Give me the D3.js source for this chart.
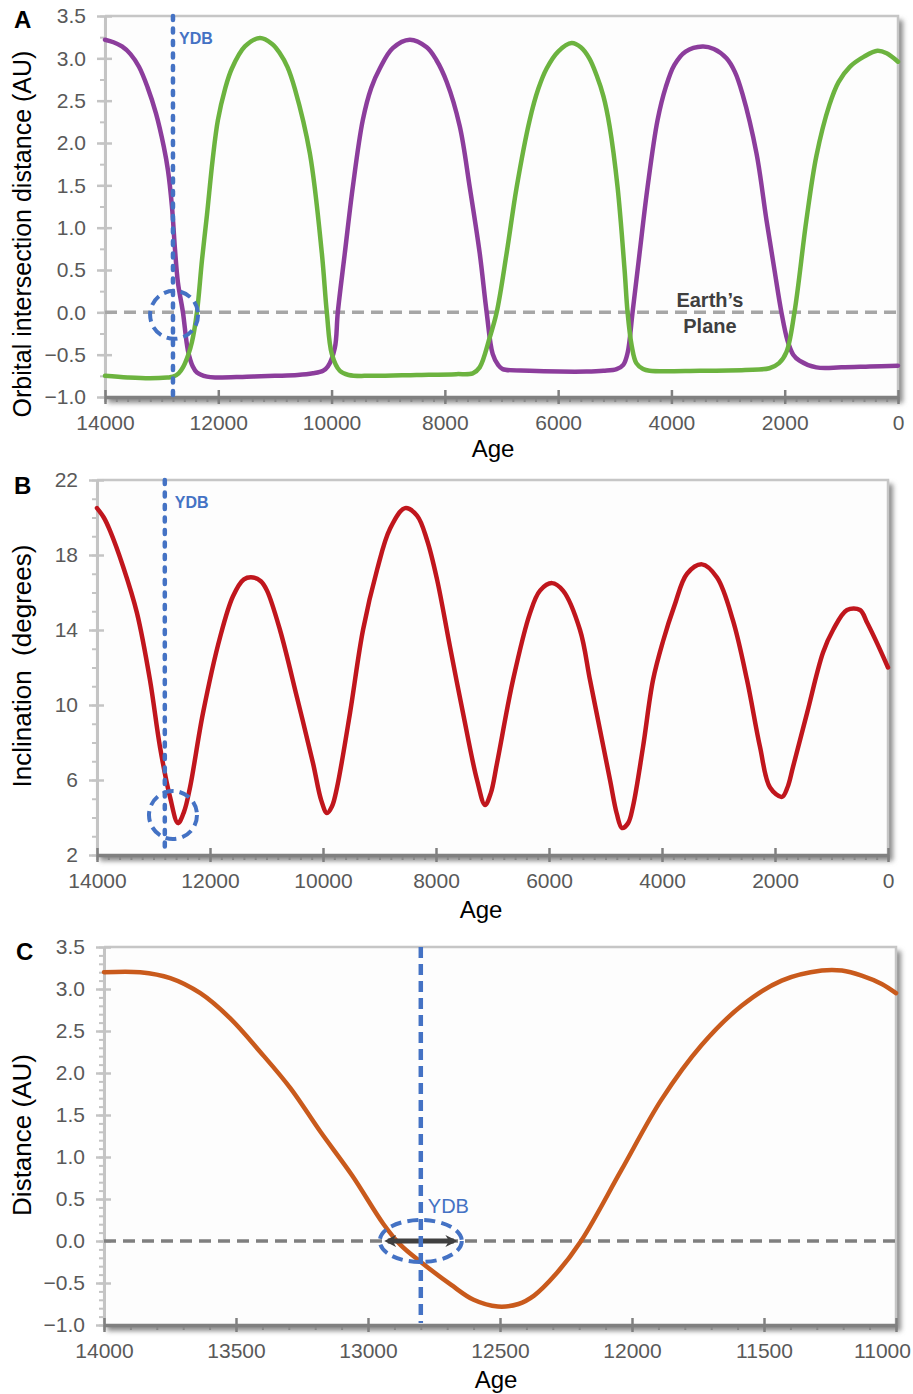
<!DOCTYPE html>
<html>
<head>
<meta charset="utf-8">
<script src="https://cdn.jsdelivr.net/npm/d3@7"></script>
<style>
  body { margin: 0; background: #fff; }
  svg { display: block; font-family: "Liberation Sans", Arial, sans-serif; }
</style>
</head>
<body>
<svg id="fig" width="913" height="1394"></svg>
<script>
// ---- data: [age (yr BP), value] ----
const purpleA = [[14000,3.22],[13850,3.19],[13700,3.14],[13550,3.05],[13400,2.9],[13250,2.66],[13100,2.35],[12960,1.95],[12889,1.68],[12818,1.25],[12765,0.75],[12712,0.35],[12624,0.0],[12536,-0.45],[12450,-0.64],[12377,-0.71],[12200,-0.76],[12024,-0.77],[11500,-0.76],[11000,-0.75],[10600,-0.74],[10330,-0.72],[10150,-0.69],[10066,-0.64],[9943,-0.42],[9890,0.0],[9766,0.7],[9625,1.48],[9449,2.27],[9300,2.65],[9149,2.88],[8920,3.12],[8620,3.22],[8320,3.13],[8150,2.98],[7967,2.72],[7738,2.2],[7561,1.48],[7385,0.7],[7262,0.0],[7156,-0.49],[7060,-0.62],[6979,-0.67],[6503,-0.69],[5974,-0.70],[5500,-0.70],[5200,-0.69],[4968,-0.67],[4850,-0.62],[4774,-0.48],[4686,0.0],[4562,0.7],[4421,1.48],[4245,2.27],[4100,2.66],[3950,2.92],[3750,3.08],[3451,3.14],[3250,3.11],[3028,3.0],[2880,2.84],[2746,2.58],[2499,1.88],[2322,1.09],[2181,0.5],[2058,0.0],[1952,-0.33],[1850,-0.5],[1740,-0.57],[1440,-0.65],[1000,-0.65],[500,-0.64],[0,-0.63]];
const greenA = [[14000,-0.75],[13600,-0.77],[13206,-0.78],[12900,-0.77],[12800,-0.76],[12700,-0.72],[12624,-0.65],[12530,-0.5],[12465,-0.35],[12377,0.0],[12289,0.61],[12200,1.15],[12100,1.8],[12007,2.27],[11880,2.64],[11760,2.88],[11530,3.14],[11266,3.24],[11050,3.17],[10913,3.06],[10780,2.9],[10648,2.64],[10384,1.88],[10172,0.7],[10084,0.0],[9996,-0.49],[9855,-0.69],[9700,-0.74],[9300,-0.75],[8500,-0.74],[7800,-0.73],[7508,-0.72],[7385,-0.65],[7209,-0.3],[7085,0.0],[6909,0.7],[6732,1.48],[6503,2.27],[6350,2.64],[6203,2.88],[6000,3.08],[5762,3.18],[5600,3.13],[5450,3.0],[5321,2.8],[5200,2.55],[5092,2.2],[4951,1.48],[4827,0.5],[4774,0.0],[4700,-0.4],[4620,-0.6],[4500,-0.67],[4386,-0.69],[3500,-0.69],[2700,-0.68],[2270,-0.66],[2100,-0.6],[1970,-0.47],[1828,0.0],[1617,1.09],[1440,1.85],[1211,2.45],[1050,2.72],[850,2.9],[600,3.02],[364,3.09],[200,3.06],[0,2.96]];
const redB = [[14000,20.5],[13880,20.0],[13770,19.3],[13540,17.4],[13292,14.9],[13062,11.33],[12885,7.76],[12708,5.1],[12566,3.7],[12460,4.3],[12354,5.6],[12124,9.57],[11823,13.6],[11593,15.8],[11400,16.7],[11239,16.8],[11100,16.6],[10991,16.1],[10761,14.0],[10460,10.4],[10177,6.9],[10030,4.9],[9929,4.24],[9840,4.6],[9752,5.6],[9522,9.57],[9292,14.0],[9044,17.2],[8814,19.4],[8548,20.5],[8336,20.1],[8159,18.8],[7982,16.7],[7752,13.1],[7522,9.57],[7274,6.0],[7132,4.67],[7030,5.3],[6920,6.9],[6637,11.33],[6336,14.9],[6159,16.1],[5946,16.5],[5752,16.1],[5451,14.0],[5274,11.33],[5097,8.67],[4920,6.0],[4800,4.2],[4708,3.44],[4600,3.7],[4513,4.6],[4336,7.76],[4159,11.33],[3982,13.4],[3780,15.3],[3557,17.0],[3292,17.5],[3026,16.8],[2743,14.5],[2495,11.33],[2265,7.76],[2088,5.6],[1876,5.1],[1780,5.6],[1681,6.7],[1433,9.57],[1150,12.8],[973,14.0],[725,15.07],[495,15.07],[371,14.4],[194,13.3],[0,12.0]];
const orangeC = [[14000,3.2],[13863,3.2],[13749,3.13],[13635,2.95],[13522,2.65],[13408,2.25],[13294,1.82],[13180,1.3],[13060,0.78],[12941,0.2],[12876,-0.05],[12800,-0.25],[12686,-0.52],[12600,-0.7],[12508,-0.78],[12430,-0.75],[12371,-0.65],[12290,-0.4],[12193,0.0],[12041,0.84],[11889,1.68],[11737,2.33],[11585,2.8],[11433,3.1],[11281,3.22],[11205,3.22],[11130,3.16],[11054,3.06],[11000,2.95]];

// ticks
const ageTicksAB = [14000, 12000, 10000, 8000, 6000, 4000, 2000, 0];
const ageTicksC = [14000, 13500, 13000, 12500, 12000, 11500, 11000];
const distTicks = [-1.0, -0.5, 0.0, 0.5, 1.0, 1.5, 2.0, 2.5, 3.0, 3.5];
const inclTicks = [2, 6, 10, 14, 18, 22];

const ydbAge = 12800;
const blue = "#4472c4";

const svg = d3.select("#fig");
const defs = svg.append("defs");
defs.append("filter").attr("id", "soft")
  .append("feGaussianBlur").attr("stdDeviation", 2.5);
defs.append("marker").attr("id", "head")
  .attr("viewBox", "0 -5 10 10").attr("refX", 7).attr("refY", 0)
  .attr("markerWidth", 2.4).attr("markerHeight", 2.4)
  .attr("orient", "auto-start-reverse").attr("markerUnits", "strokeWidth")
  .append("path").attr("d", "M0,-5L10,0L0,5L3,0Z").attr("fill", "#404040");

function drawPanel(cfg) {
  const w = cfg.right - cfg.left, h = cfg.bottom - cfg.top;
  const g = svg.append("g").attr("transform", `translate(${cfg.left},${cfg.top})`);
  const x = d3.scaleLinear().domain(cfg.xDomain).range([0, w]);
  const y = d3.scaleLinear().domain(cfg.yDomain).range([h, 0]);

  // frame with soft shadow
  g.append("rect").attr("x", 3).attr("y", 4).attr("width", w + 2).attr("height", h + 2)
    .attr("fill", "#8c8c8c").attr("filter", "url(#soft)");
  g.append("rect").attr("width", w).attr("height", h).attr("fill", "#fdfdfd");
  g.append("path").attr("d", `M0,0H${w}V${h}`).attr("fill", "none")
    .attr("stroke", "#c6c6c6").attr("stroke-width", 2.5);

  // y axis
  const yMinor = d3.range(cfg.yDomain[0], cfg.yDomain[1] + 1e-9, cfg.yMinorStep);
  g.append("g")
    .call(d3.axisLeft(y).tickValues(yMinor).tickSize(5).tickFormat(""))
    .call(s => s.select(".domain").remove())
    .selectAll("line").attr("stroke", "#c4c4c4").attr("stroke-width", 2);
  g.append("g")
    .call(d3.axisRight(y).tickValues(cfg.yTicks).tickSize(7).tickFormat(""))
    .call(s => s.select(".domain").remove())
    .selectAll("line").attr("stroke", "#c4c4c4").attr("stroke-width", 2.5);
  const ya = g.append("g")
    .call(d3.axisLeft(y).tickValues(cfg.yTicks).tickSizeInner(8).tickSizeOuter(0)
      .tickPadding(11).tickFormat(cfg.yFormat));
  ya.select(".domain").attr("stroke", "#c4c4c4").attr("stroke-width", 3);
  ya.selectAll("line").attr("stroke", "#c4c4c4").attr("stroke-width", 2.5);
  ya.selectAll("text").attr("fill", "#595959").style("font-size", "21px");

  // x axis
  const xMinor = d3.range(d3.min(cfg.xDomain), d3.max(cfg.xDomain) + 1e-9, cfg.xMinorStep);
  g.append("g").attr("transform", `translate(0,${h})`)
    .call(d3.axisBottom(x).tickValues(xMinor).tickSize(5).tickFormat(""))
    .call(s => s.select(".domain").remove())
    .selectAll("line").attr("stroke", "#8a8a8a").attr("stroke-width", 2);
  g.append("g").attr("transform", `translate(0,${h})`)
    .call(d3.axisTop(x).tickValues(cfg.xTicks).tickSize(7).tickFormat(""))
    .call(s => s.select(".domain").remove())
    .selectAll("line").attr("stroke", "#808080").attr("stroke-width", 2.5);
  const xa = g.append("g").attr("transform", `translate(0,${h})`)
    .call(d3.axisBottom(x).tickValues(cfg.xTicks).tickSizeInner(7).tickSizeOuter(0)
      .tickPadding(11).tickFormat(d3.format("d")));
  xa.select(".domain").attr("stroke", "#808080").attr("stroke-width", 3.5);
  xa.selectAll("line").attr("stroke", "#808080").attr("stroke-width", 2.5);
  xa.selectAll("text").attr("fill", "#595959").style("font-size", "21px");
  // keep the last label inside the page
  if (cfg.lastShift) xa.selectAll(".tick:last-of-type text").attr("dx", cfg.lastShift);

  // titles
  svg.append("text").attr("x", cfg.label[0]).attr("y", cfg.label[1])
    .attr("font-weight", "bold").attr("font-size", 24).text(cfg.name);
  svg.append("text").attr("x", cfg.xTitle[0]).attr("y", cfg.xTitle[1])
    .attr("text-anchor", "middle").attr("font-size", 24).text("Age");
  svg.append("text")
    .attr("transform", `translate(${cfg.yTitle[0]},${cfg.yTitle[1]}) rotate(-90)`)
    .attr("text-anchor", "middle").attr("font-size", cfg.yTitleSize).attr("xml:space", "preserve")
    .text(cfg.yLabel);

  return { g, x, y, w, h };
}

const line = (p) => d3.line().x(d => p.x(d[0])).y(d => p.y(d[1]))
  .curve(d3.curveCatmullRom.alpha(0.5));
function series(p, data, color) {
  p.g.append("path").datum(data).attr("d", line(p)).attr("fill", "none")
    .attr("stroke", color).attr("stroke-width", 4.5)
    .attr("stroke-linejoin", "round").attr("stroke-linecap", "round");
}
function ydbLine(p, dash, cap) {
  p.g.append("line").attr("x1", p.x(ydbAge)).attr("x2", p.x(ydbAge))
    .attr("y1", 0).attr("y2", p.h - 2)
    .attr("stroke", blue).attr("stroke-width", 4.5)
    .attr("stroke-dasharray", dash).attr("stroke-linecap", cap);
}

// ---------- Panel A ----------
const pA = drawPanel({
  name: "A", label: [14, 28], left: 105, right: 898, top: 16, bottom: 397,
  xDomain: [14000, 0], yDomain: [-1, 3.5], xTicks: ageTicksAB, yTicks: distTicks,
  xMinorStep: 200, yMinorStep: 0.25, yFormat: d3.format(".1f"),
  xTitle: [493, 457], yTitle: [31, 234], yTitleSize: 25,
  yLabel: "Orbital intersection distance (AU)"
});
pA.g.append("line").attr("x1", 0).attr("x2", pA.w).attr("y1", pA.y(0)).attr("y2", pA.y(0))
  .attr("stroke", "#a6a6a6").attr("stroke-width", 3.5).attr("stroke-dasharray", "12,7");
pA.g.append("text").attr("x", pA.x(3320)).attr("y", pA.y(0) - 5)
  .attr("text-anchor", "middle").attr("font-weight", "bold").attr("font-size", 20)
  .attr("fill", "#3f3f3f")
  .selectAll("tspan").data(["Earth\u2019s", "Plane"]).join("tspan")
  .attr("x", pA.x(3320)).attr("dy", (d, i) => i ? 26 : 0).text(d => d);
series(pA, purpleA, "#8c3d9c");
series(pA, greenA, "#6cb33f");
ydbLine(pA, "4,8.5", "round");
pA.g.append("text").attr("x", pA.x(ydbAge) + 6).attr("y", 28).attr("fill", blue)
  .attr("font-weight", "bold").attr("font-size", 16).text("YDB");
pA.g.append("ellipse").attr("cx", pA.x(12780)).attr("cy", pA.y(-0.03))
  .attr("rx", 24).attr("ry", 24).attr("fill", "none").attr("stroke", blue)
  .attr("stroke-width", 4).attr("stroke-dasharray", "11,6");

// ---------- Panel B ----------
const pB = drawPanel({
  name: "B", label: [14, 494], left: 97, right: 888, top: 480, bottom: 855,
  xDomain: [14000, 0], yDomain: [2, 22], xTicks: ageTicksAB, yTicks: inclTicks,
  xMinorStep: 200, yMinorStep: 1, yFormat: d3.format("d"),
  xTitle: [481, 918], yTitle: [31, 666], yTitleSize: 26,
  yLabel: "Inclination  (degrees)"
});
series(pB, redB, "#c0161d");
ydbLine(pB, "4,8.5", "round");
pB.g.append("text").attr("x", pB.x(ydbAge) + 10).attr("y", 28).attr("fill", blue)
  .attr("font-weight", "bold").attr("font-size", 16).text("YDB");
pB.g.append("ellipse").attr("cx", pB.x(12655)).attr("cy", pB.y(4.13))
  .attr("rx", 24).attr("ry", 24).attr("fill", "none").attr("stroke", blue)
  .attr("stroke-width", 4).attr("stroke-dasharray", "11,6");

// ---------- Panel C ----------
const pC = drawPanel({
  name: "C", label: [16, 960], left: 104, right: 896, top: 947, bottom: 1325,
  xDomain: [14000, 11000], yDomain: [-1, 3.5], xTicks: ageTicksC, yTicks: distTicks,
  xMinorStep: 100, yMinorStep: 0.1, yFormat: d3.format(".1f"), lastShift: -14,
  xTitle: [496, 1388], yTitle: [31, 1135], yTitleSize: 26,
  yLabel: "Distance (AU)"
});
pC.g.append("line").attr("x1", 0).attr("x2", pC.w).attr("y1", pC.y(0)).attr("y2", pC.y(0))
  .attr("stroke", "#7f7f7f").attr("stroke-width", 3.5).attr("stroke-dasharray", "12,7");
series(pC, orangeC, "#c95a1c");
pC.g.append("line").attr("x1", pC.x(12925)).attr("x2", pC.x(12675))
  .attr("y1", pC.y(0)).attr("y2", pC.y(0))
  .attr("stroke", "#404040").attr("stroke-width", 5)
  .attr("marker-start", "url(#head)").attr("marker-end", "url(#head)");
ydbLine(pC, "11,6", "butt");
pC.g.append("ellipse").attr("cx", pC.x(ydbAge)).attr("cy", pC.y(0))
  .attr("rx", 41).attr("ry", 21).attr("fill", "none").attr("stroke", blue)
  .attr("stroke-width", 4).attr("stroke-dasharray", "11,6");
pC.g.append("text").attr("x", pC.x(ydbAge) + 7).attr("y", pC.y(0) - 28).attr("fill", blue)
  .attr("font-size", 20).text("YDB");
</script>
</body>
</html>
